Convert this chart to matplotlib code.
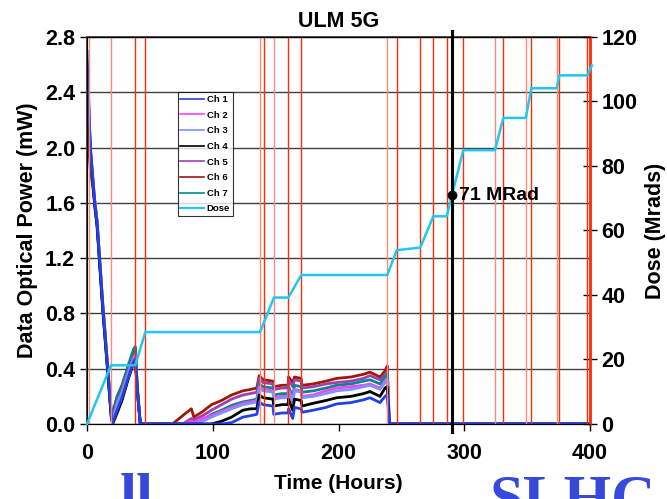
import matplotlib
matplotlib.use("Agg")
import matplotlib.pyplot as plt
from matplotlib.lines import Line2D

plt.rcParams['font.family'] = ['Liberation Sans', 'DejaVu Sans']
plt.rcParams['font.weight'] = 'bold'

# ---------------------------
# Datos
# ---------------------------
hours = [0, 1, 2.6, 6.1, 8, 12.5, 19.3, 20.4, 24, 27.8, 33, 37, 38.4, 40, 42.4,
         68, 76, 83, 85, 92, 99, 107, 115, 124, 130, 135, 137, 140, 147.9, 148.5,
         155, 159.8, 160.3, 163.6, 165, 170.3, 171, 180, 190, 198.5, 210, 220,
         225, 233, 237, 238.8, 240.4, 400]

ch1 = [2.70, 2.45, 2.00, 1.60, 1.45, 0.85, 0.06, 0.01, 0.10, 0.19, 0.34, 0.45, 0.47, 0.25, 0.0,
       0.0, 0.0, 0.0, 0.0, 0.0, 0.0, 0.0, 0.01, 0.05, 0.06, 0.07, 0.16, 0.14, 0.13, 0.07,
       0.08, 0.08, 0.11, 0.04, 0.12, 0.11, 0.085, 0.10, 0.12, 0.145, 0.155, 0.175,
       0.19, 0.155, 0.20, 0.21, 0.0, 0.0]
ch2 = [2.45, 2.35, 2.00, 1.62, 1.46, 0.86, 0.07, 0.02, 0.15, 0.23, 0.38, 0.48, 0.50, 0.25, 0.0,
       0.0, 0.0, 0.02, 0.01, 0.04, 0.06, 0.09, 0.12, 0.15, 0.16, 0.17, 0.27, 0.25, 0.24, 0.19,
       0.20, 0.20, 0.25, 0.17, 0.25, 0.24, 0.20, 0.21, 0.24, 0.26, 0.27, 0.28,
       0.29, 0.26, 0.31, 0.32, 0.0, 0.0]
ch3 = [2.60, 2.40, 2.02, 1.60, 1.45, 0.85, 0.06, 0.02, 0.14, 0.22, 0.36, 0.46, 0.48, 0.25, 0.0,
       0.0, 0.0, 0.0, 0.0, 0.02, 0.05, 0.08, 0.11, 0.14, 0.15, 0.16, 0.26, 0.24, 0.23, 0.18,
       0.19, 0.19, 0.24, 0.16, 0.24, 0.23, 0.19, 0.20, 0.22, 0.24, 0.25, 0.27,
       0.28, 0.25, 0.30, 0.31, 0.0, 0.0]
ch4 = [2.55, 2.30, 1.98, 1.58, 1.43, 0.83, 0.05, 0.0, 0.08, 0.17, 0.33, 0.44, 0.46, 0.24, 0.0,
       0.0, 0.0, 0.0, 0.0, 0.0, 0.0, 0.02, 0.05, 0.10, 0.11, 0.11, 0.21, 0.19, 0.18, 0.13,
       0.14, 0.14, 0.18, 0.10, 0.18, 0.17, 0.13, 0.15, 0.17, 0.19, 0.20, 0.22,
       0.235, 0.20, 0.26, 0.27, 0.0, 0.0]
ch5 = [2.50, 2.40, 2.01, 1.61, 1.46, 0.86, 0.07, 0.03, 0.17, 0.25, 0.40, 0.50, 0.52, 0.26, 0.0,
       0.0, 0.0, 0.04, 0.03, 0.06, 0.10, 0.14, 0.18, 0.21, 0.22, 0.23, 0.33, 0.30, 0.29, 0.25,
       0.26, 0.26, 0.32, 0.27, 0.32, 0.31, 0.26, 0.27, 0.29, 0.30, 0.31, 0.33,
       0.35, 0.32, 0.36, 0.38, 0.0, 0.0]
ch6 = [2.15, 2.05, 1.85, 1.62, 1.47, 0.88, 0.09, 0.08, 0.20, 0.28, 0.42, 0.52, 0.55, 0.27, 0.0,
       0.0, 0.06, 0.11, 0.05, 0.09, 0.14, 0.17, 0.21, 0.24, 0.25, 0.26, 0.35, 0.32, 0.31, 0.27,
       0.28, 0.28, 0.34, 0.30, 0.34, 0.33, 0.28, 0.29, 0.31, 0.33, 0.34, 0.36,
       0.375, 0.34, 0.385, 0.42, 0.0, 0.0]
ch7 = [2.35, 2.30, 2.00, 1.62, 1.47, 0.87, 0.08, 0.05, 0.20, 0.27, 0.43, 0.54, 0.56, 0.27, 0.0,
       0.0, 0.0, 0.01, 0.01, 0.03, 0.07, 0.10, 0.135, 0.16, 0.17, 0.18, 0.29, 0.27, 0.26, 0.21,
       0.22, 0.22, 0.27, 0.20, 0.28, 0.27, 0.23, 0.24, 0.26, 0.28, 0.29, 0.31,
       0.32, 0.29, 0.34, 0.36, 0.0, 0.0]

dose_hours = [0, 19.1, 38.4, 46.4, 137.6, 148.7, 160.1, 170.4, 238.8, 246.3, 265,
              275.4, 286, 299.2, 324.4, 331, 349, 353.3, 373.5, 375.6, 397.9, 401.5]
dose_mrad = [0, 18.2, 18.2, 28.5, 28.5, 39.2, 39.2, 46.2, 46.2, 53.9, 54.7,
             64.4, 64.4, 84.9, 84.9, 94.9, 94.9, 104.1, 104.1, 108.1, 108.1, 111.2]

# marcas de encendido/apagado del haz (lineas rojas)
beam_marks = [1.8, 19.1, 38.4, 46.4, 137.6, 140.5, 148.7, 160.1, 170.4, 238.8, 246.3,
              265, 275.4, 286, 299.2, 324.4, 331, 349, 353.3, 373.5, 375.6, 397.9, 400]
beam_light = [True, True, False, False, True, False, True, False, False, True, False,
              False, False, False, False, True, False, True, False, True, False, False, False]

marker_hour = 290.5
marker_dose = 71

channels = [ch1, ch2, ch3, ch4, ch5, ch6, ch7]
ch_names = ["Ch 1", "Ch 2", "Ch 3", "Ch 4", "Ch 5", "Ch 6", "Ch 7"]
ch_colors = ['#2040e8', '#ff40f0', '#7f90ff', '#000000', '#a040b0', '#a01808', '#008a8a']
draw_order = [5, 4, 6, 1, 2, 3, 0]

fig = plt.figure(figsize=(6.67, 4.99), dpi=100)
ax = fig.add_axes([0.1304, 0.1503, 0.7542, 0.7756])
ax2 = ax.twinx()

for i in draw_order:
    ax.plot(hours, channels[i], color=ch_colors[i], lw=2.0, zorder=3)

ax.set_xlim(0, 400)
ax.set_ylim(0, 2.8)
ax.set_yticks([0.0, 0.4, 0.8, 1.2, 1.6, 2.0, 2.4, 2.8])
ax.set_yticklabels([f"{v:.1f}" for v in ax.get_yticks()])
ax.set_xticks([0, 100, 200, 300, 400])
ax.yaxis.grid(True, color='#404040', lw=1.0)
ax.set_axisbelow(True)
ax.tick_params(axis='both', labelsize=15.5, direction='out', length=5, width=1)
ax.tick_params(axis='x', pad=9)
ax.set_xlabel("Time (Hours)", fontsize=15, fontweight='bold', labelpad=7)
ax.set_ylabel("Data Optical Power (mW)", fontsize=15.5, fontweight='bold', labelpad=5)
ax.set_title("ULM 5G", fontsize=15.5, fontweight='bold', pad=7)
for s in ['top', 'left']:
    ax.spines[s].set_color('#505050')
    ax.spines[s].set_linewidth(1.4)

for xm, light in zip(beam_marks, beam_light):
    ax2.axvline(xm, color='#ff8a78' if light else '#ff2a08', lw=1.0, zorder=2)

ax2.plot(dose_hours, dose_mrad, color='#1ec8f0', lw=1.8, zorder=4, clip_on=False)
ax2.plot([marker_hour, marker_hour], [-0.02, 1.015], color='black', lw=2.2,
         transform=ax2.get_xaxis_transform(), clip_on=False, zorder=5)
ax2.plot(marker_hour, marker_dose, 'o', color='black', ms=6, zorder=6)
ax2.text(marker_hour + 5, marker_dose, "71 MRad", fontsize=14, fontweight='bold',
         va='center', ha='left', zorder=6)
ax2.set_ylim(0, 120)
ax2.set_yticks([0, 20, 40, 60, 80, 100, 120])
ax2.tick_params(axis='y', labelsize=15.5, direction='inout', length=10, width=1, pad=3)
ax2.set_ylabel("Dose (Mrads)", fontsize=15.5, fontweight='bold', labelpad=6)
ax2.spines['right'].set_color('#ff2a08')
ax2.spines['right'].set_linewidth(2)

handles = [Line2D([0], [0], color=c, lw=1.2) for c in ch_colors]
handles.append(Line2D([0], [0], color='#1ec8f0', lw=1.6))
leg = ax2.legend(handles, ch_names + ["Dose"], loc='upper left', bbox_to_anchor=(0.18, 0.857),
                 fontsize=6.8, frameon=True, fancybox=False, edgecolor='black',
                 handlelength=2.5, handletextpad=0.3, borderpad=0.3, labelspacing=0.7,
                 borderaxespad=0)
leg.get_frame().set_linewidth(0.8)
leg.set_zorder(10)
for t in leg.get_texts():
    t.set_fontweight('bold')

# texto de fondo de la diapositiva, cortado abajo
fig.text(0.18, -0.035, "ll", fontsize=44, color='#3848d8', family='Liberation Serif', va='baseline')
fig.text(0.735, -0.035, "SLHC", fontsize=44, color='#3848d8', family='Liberation Serif', va='baseline')

fig.savefig("out.png", dpi=100)
plt.close(fig)
